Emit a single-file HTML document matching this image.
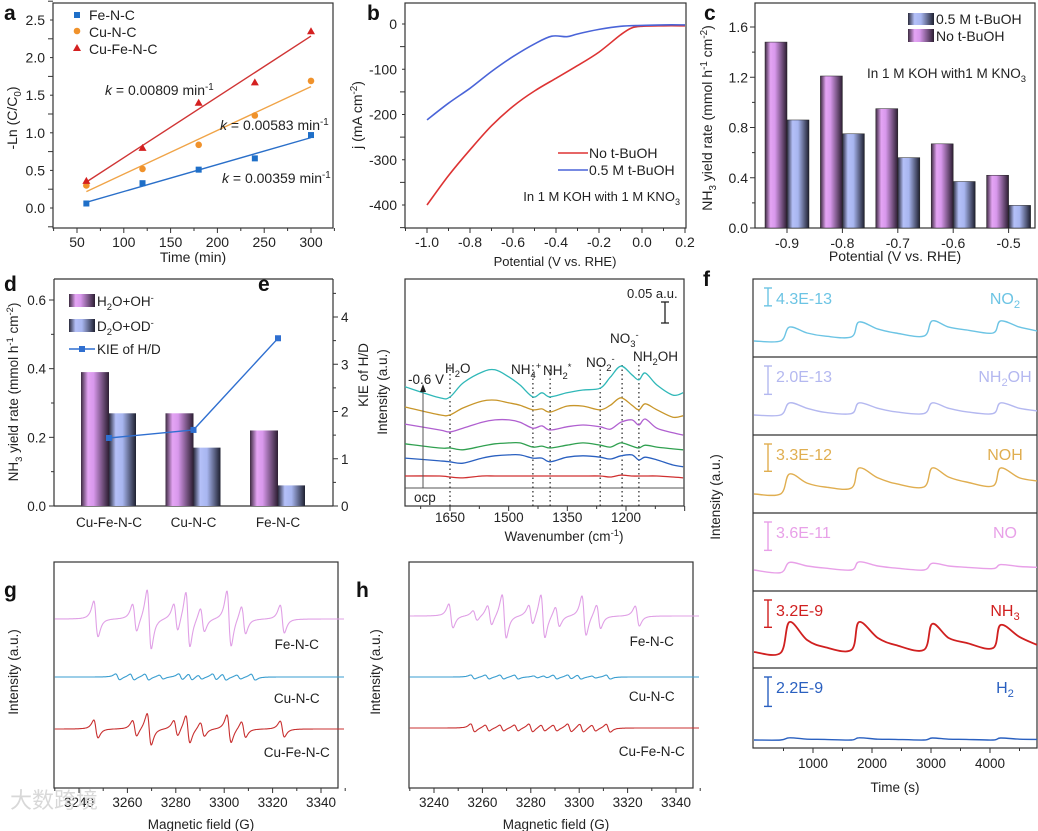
<!DOCTYPE html>
<html><head><meta charset="utf-8">
<style>
html,body{margin:0;padding:0;background:#fff;}
svg{display:block;font-family:"Liberation Sans","Noto Sans CJK SC",sans-serif;}
</style></head>
<body>
<svg id="fig" width="1038" height="831" viewBox="0 0 1038 831" xmlns="http://www.w3.org/2000/svg">
<defs>
<linearGradient id="gPurple" x1="0" x2="1" y1="0" y2="0">
<stop offset="0" stop-color="#3c2a40"/><stop offset="0.25" stop-color="#e4a4f4"/><stop offset="0.45" stop-color="#d898ec"/><stop offset="1" stop-color="#2c1e32"/></linearGradient>
<linearGradient id="gBlue" x1="0" x2="1" y1="0" y2="0">
<stop offset="0" stop-color="#2a2a3c"/><stop offset="0.25" stop-color="#b4c0f8"/><stop offset="0.5" stop-color="#a8b6f0"/><stop offset="1" stop-color="#1e2030"/></linearGradient>
<clipPath id="fclip"><rect x="753" y="279" width="284" height="469"/></clipPath>
</defs>
</svg>
<script>
// ---------- DATA ----------
// panel a
const aTimes=[60,120,180,240,300];
const aFe=[0.06,0.33,0.51,0.66,0.97];
const aCu=[0.30,0.52,0.84,1.23,1.69];
const aCuFe=[0.36,0.80,1.40,1.67,2.35];
// panel b
const bPotRed=[-1.0,-0.9,-0.8,-0.7,-0.6,-0.5,-0.4,-0.3,-0.2,-0.1,-0.05,0.0,0.1,0.2];
const bRed=[-400,-335,-278,-225,-182,-148,-120,-92,-62,-24,-9,-5,-4,-4];
const bPotBlue=[-1.0,-0.9,-0.8,-0.7,-0.6,-0.5,-0.42,-0.35,-0.3,-0.2,-0.1,0.0,0.1,0.2];
const bBlue=[-212,-175,-142,-105,-72,-44,-27,-28,-22,-12,-5,-3,-2,-2];
// panel c
const cCats=['-0.9','-0.8','-0.7','-0.6','-0.5'];
const cNo=[1.48,1.21,0.95,0.67,0.42];
const cTBuOH=[0.86,0.75,0.56,0.37,0.18];
// panel d
const dCats=['Cu-Fe-N-C','Cu-N-C','Fe-N-C'];
const dH2O=[0.39,0.27,0.22];
const dD2O=[0.27,0.17,0.06];
const dKIE=[1.44,1.61,3.55];
// panel e
const eWn=[1765,1676,1650,1617,1568,1535,1499,1471,1438,1415,1394,1351,1310,1266,1240,1213,1185,1167,1151,1121,1080,1054];
const eTeal=[.220,.196,.198,.228,.252,.257,.241,.224,.198,.207,.198,.207,.213,.217,.241,.265,.246,.235,.250,.224,.202,.207];
const eOrange=[.176,.159,.159,.174,.189,.191,.185,.180,.170,.172,.165,.178,.178,.170,.180,.196,.180,.170,.183,.170,.154,.157];
const ePurple=[.139,.126,.122,.130,.143,.148,.148,.143,.130,.135,.126,.133,.137,.133,.128,.143,.148,.137,.150,.130,.120,.115];
const eGreen=[.096,.087,.087,.083,.091,.096,.098,.098,.089,.091,.087,.093,.098,.093,.089,.098,.091,.087,.093,.089,.085,.083];
const eBlue=[.065,.059,.057,.054,.065,.070,.072,.072,.065,.065,.057,.067,.070,.067,.063,.070,.072,.061,.067,.061,.050,.046];
const eRed=[.026,.026,.024,.022,.026,.026,.026,.026,.026,.026,.026,.026,.026,.026,.024,.028,.026,.026,.026,.026,.024,.022];
const eMarks=[1650,1438,1394,1266,1210,1167];
// panel f
const fTimes=[0,450,600,900,1200,1650,1780,2100,2400,2880,3020,3300,3600,4050,4180,4500,4800];
const fNO2=[0,0,0.82,0.47,0.29,0.24,1.12,0.7,0.47,0.29,1.18,0.82,0.65,0.47,1.18,0.82,0.59];
const fNH2OH=[0,0,0.45,0.25,0.1,0.05,0.45,0.25,0.12,0.05,0.45,0.25,0.12,0.05,0.45,0.25,0.15];
const fNOH=[0,0,0.77,0.42,0.27,0.23,1.0,0.62,0.4,0.27,1.0,0.65,0.46,0.31,1.0,0.62,0.5];
const fNO=[0,-0.1,0.28,0.15,0.07,0.0,0.3,0.15,0.07,0.0,0.25,0.15,0.1,0.05,0.2,0.13,0.1];
const fNH3=[0,-0.04,1.15,0.46,0.19,0.08,1.15,0.54,0.27,0.08,1.08,0.54,0.35,0.15,1.04,0.58,0.27];
const fH2=[0,0,0.08,0.03,0.02,0.0,0.08,0.03,0.02,0,0.07,0.03,0.02,0,0.07,0.03,0.02];
const fScaleLabels=['4.3E-13','2.0E-13','3.3E-12','3.6E-11','3.2E-9','2.2E-9'];
const fSpecies=['NO_{2}','NH_{2}OH','NOH','NO','NH_{3}','H_{2}'];
// panels g/h (EPR hyperfine lines)
const epLines=[3247,3263,3269,3280,3285,3291,3302,3308,3324];
const gFeAmp=[18,14,30,14,28,12,28,14,14];
const gCuFeAmp=[9,8,16,8,14,7,14,8,8];
const hFeAmp=[12,10,22,10,22,10,20,12,10];
const cuLines=[3256,3262,3268,3274,3282,3286,3290,3296,3300,3306,3312];
const gCuAmp=[3,3,3,2,3,3,2,3,3,2,3];
const hCuAmp=[2,2,2,2,1,1,2,2,2,1,2];
const hCuFeLines=[3256,3262,3268,3274,3280,3285,3290,3296,3301,3306,3312];
const hCuFeAmp=[4,3,3,3,4,3,3,4,4,3,4];

// ---------- HELPERS ----------
const NS='http://www.w3.org/2000/svg';
const S=document.getElementById('fig');
function mk(tag,attrs,name){
  const el=document.createElementNS(NS,tag);
  for(const k in attrs) el.setAttribute(k,attrs[k]);
  
  
  S.appendChild(el);return el;
}
function sc(d0,d1,r0,r1){return v=>r0+(v-d0)*(r1-r0)/(d1-d0);}
function txt(x,y,s,name,o){
  o=o||{};
  const el=mk('text',{x:x,y:y,'font-size':o.fs||14,fill:o.fill||'#222','text-anchor':o.anchor||'start','font-weight':o.fw||'normal','font-style':o.fi||'normal'},name);
  if(o.rot!==undefined) el.setAttribute('transform','rotate('+o.rot+' '+x+' '+y+')');
  const parts=s.split(/(_\{[^}]*\}|\^\{[^}]*\}|\*\{[^}]*\})/);
  let shift=0;
  parts.forEach(p=>{
    if(!p)return;
    const t=document.createElementNS(NS,'tspan');
    let dy=0;
    if(p[0]==='_'&&p[1]==='{'){t.textContent=p.slice(2,-1);t.setAttribute('font-size',(o.fs||14)*0.7);dy=4-shift;shift=4;}
    else if(p[0]==='^'&&p[1]==='{'){t.textContent=p.slice(2,-1);t.setAttribute('font-size',(o.fs||14)*0.7);dy=-5-shift;shift=-5;}
    else if(p[0]==='*'&&p[1]==='{'){t.textContent=p.slice(2,-1);t.setAttribute('font-style','italic');dy=-shift;shift=0;}
    else {t.textContent=p;dy=-shift;shift=0;}
    if(dy) t.setAttribute('dy',dy);
    el.appendChild(t);
  });
  return el;
}
function line(x1,y1,x2,y2,name,o){o=o||{};return mk('line',{x1:x1,y1:y1,x2:x2,y2:y2,stroke:o.stroke||'#333','stroke-width':o.sw||1,'stroke-dasharray':o.dash||'none'},name);}
function box(x0,y0,x1,y1,name){return mk('rect',{x:x0,y:y0,width:x1-x0,height:y1-y0,fill:'none',stroke:'#333','stroke-width':1.2},name);}
function smooth(pts){
  let d='M'+pts[0][0].toFixed(1)+','+pts[0][1].toFixed(1);
  for(let i=0;i<pts.length-1;i++){
    const p0=pts[i-1]||pts[i],p1=pts[i],p2=pts[i+1],p3=pts[i+2]||p2;
    const c1=[p1[0]+(p2[0]-p0[0])/6,p1[1]+(p2[1]-p0[1])/6];
    const c2=[p2[0]-(p3[0]-p1[0])/6,p2[1]-(p3[1]-p1[1])/6];
    d+=' C'+c1[0].toFixed(1)+','+c1[1].toFixed(1)+' '+c2[0].toFixed(1)+','+c2[1].toFixed(1)+' '+p2[0].toFixed(1)+','+p2[1].toFixed(1);
  }
  return d;
}
function poly(pts){return 'M'+pts.map(p=>p[0].toFixed(1)+','+p[1].toFixed(1)).join(' L');}
function path(d,stroke,name,sw){return mk('path',{d:d,fill:'none',stroke:stroke,'stroke-width':sw||1.4,'stroke-linejoin':'round'},name);}
function yTicks(ys,from,to,step,minor,x,name,side){
  const dir=side==='right'?1:-1;
  for(let v=from;v<=to+1e-9;v+=minor){
    const maj=Math.abs(((v-from)/step)-Math.round((v-from)/step))<1e-6;
    line(x,ys(v),x+dir*(maj?5:3),ys(v),name+'-tick');
  }
}
function panelLetter(x,y,s){txt(x,y,s,'panel-label-'+s,{fs:21,fw:'bold',fill:'#111'});}

// ---------- PANEL A ----------
(function(){
  const xa=sc(50,300,77,311), ya=sc(0,2.5,208,20);
  box(53,3,333,228,'panel-a-plot-area');
  for(let v=25;v<=325;v+=25){const maj=v%50===0;line(xa(v),228,xa(v),228+(maj?5:3),'a-x-tick');}
  [50,100,150,200,250,300].forEach(v=>txt(xa(v),247,String(v),'a-x-label',{anchor:'middle'}));
  yTicks(ya,-0.25,2.75,0.5,0.25,53,'a-y');
  [0,0.5,1,1.5,2,2.5].forEach(v=>txt(45,ya(v)+5,v.toFixed(1),'a-y-label',{anchor:'end'}));
  txt(193,262,'Time (min)','a-x-title',{anchor:'middle'});
  txt(17,118,'-Ln (C/C_{0})','a-y-title',{anchor:'middle',rot:-90});
  const series=[[aFe,'#2a6fc9','#1f6fc8','square','fe-n-c'],[aCu,'#f0a448','#f0922b','circle','cu-n-c'],[aCuFe,'#d03535','#d42020','tri','cu-fe-n-c']];
  series.forEach(s=>{
    const ys=s[0];const n=ys.length;
    const mx=aTimes.reduce((a,b)=>a+b,0)/n,my=ys.reduce((a,b)=>a+b,0)/n;
    let num=0,den=0;aTimes.forEach((t,i)=>{num+=(t-mx)*(ys[i]-my);den+=(t-mx)*(t-mx);});
    const k=num/den,b=my-k*mx;
    line(xa(aTimes[0]),ya(b+k*aTimes[0]),xa(aTimes[n-1]),ya(b+k*aTimes[n-1]),'a-fit-'+s[4],{stroke:s[1],sw:1.4});
    aTimes.forEach((t,i)=>{
      const x=xa(t),y=ya(ys[i]);
      if(s[3]==='square') mk('rect',{x:x-3,y:y-3,width:6,height:6,fill:s[2]},'a-point-'+s[4]);
      else if(s[3]==='circle') mk('circle',{cx:x,cy:y,r:3.3,fill:s[2]},'a-point-'+s[4]);
      else mk('path',{d:'M'+x+','+(y-4)+' L'+(x+4)+','+(y+3)+' L'+(x-4)+','+(y+3)+'Z',fill:s[2]},'a-point-'+s[4]);
    });
  });
  mk('rect',{x:74,y:12,width:6,height:6,fill:'#1f6fc8'},'a-legend-marker-fe');
  txt(89,20,'Fe-N-C','a-legend-fe');
  mk('circle',{cx:77,cy:31,r:3.3,fill:'#f0922b'},'a-legend-marker-cu');
  txt(89,37,'Cu-N-C','a-legend-cu');
  mk('path',{d:'M77,44 L81,51 L73,51Z',fill:'#d42020'},'a-legend-marker-cufe');
  txt(89,54,'Cu-Fe-N-C','a-legend-cufe');
  txt(105,95,'*{k} = 0.00809 min^{-1}','a-k-cufe',{fs:14});
  txt(220,130,'*{k} = 0.00583 min^{-1}','a-k-cu',{fs:14});
  txt(222,183,'*{k} = 0.00359 min^{-1}','a-k-fe',{fs:14});
  panelLetter(4,20,'a');
})();

// ---------- PANEL B ----------
(function(){
  const xb=sc(-1,0.2,427,685), yb=sc(0,-400,24,205);
  box(405,3,686,228,'panel-b-plot-area');
  for(let v=-1.1;v<=0.21;v+=0.1){const maj=Math.abs(Math.round(v*10))%2===0;line(xb(v),228,xb(v),228+(maj?5:3),'b-x-tick');}
  [-1,-0.8,-0.6,-0.4,-0.2,0,0.2].forEach(v=>txt(xb(v),247,v.toFixed(1),'b-x-label',{anchor:'middle'}));
  yTicks(yb,-450,0,100,50,405,'b-y');
  [0,-100,-200,-300,-400].forEach(v=>txt(397,yb(v)+5,String(v),'b-y-label',{anchor:'end'}));
  txt(555,266,'Potential (V vs. RHE)','b-x-title',{anchor:'middle',fs:13});
  txt(362,115,'j (mA cm^{-2})','b-y-title',{anchor:'middle',rot:-90});
  path(smooth(bPotRed.map((v,i)=>[xb(v),yb(bRed[i])])),'#dd3333','b-curve-no-tbuoh',1.6);
  path(smooth(bPotBlue.map((v,i)=>[xb(v),yb(bBlue[i])])),'#4a64d8','b-curve-tbuoh',1.6);
  line(558,153,588,153,'b-legend-line-red',{stroke:'#dd3333',sw:1.6});
  txt(589,158,'No t-BuOH','b-legend-red');
  line(558,170,588,170,'b-legend-line-blue',{stroke:'#4a64d8',sw:1.6});
  txt(589,175,'0.5 M t-BuOH','b-legend-blue');
  txt(680,201,'In 1 M KOH with 1 M KNO_{3}','b-condition',{anchor:'end',fs:13});
  panelLetter(367,20,'b');
})();

// ---------- PANEL C ----------
(function(){
  const xc=i=>787+i*55.4, yc=sc(0,1.6,228,27);
  box(755,3,1035,228,'panel-c-plot-area');
  cCats.forEach((c,i)=>{
    mk('rect',{x:xc(i)-22,y:yc(cNo[i]),width:22,height:yc(0)-yc(cNo[i]),fill:'url(#gPurple)',stroke:'#222','stroke-width':0.5},'c-bar-no-tbuoh');
    mk('rect',{x:xc(i),y:yc(cTBuOH[i]),width:22,height:yc(0)-yc(cTBuOH[i]),fill:'url(#gBlue)',stroke:'#222','stroke-width':0.5},'c-bar-tbuoh');
    line(xc(i),228,xc(i),233,'c-x-tick');
    txt(xc(i),248,c,'c-x-label',{anchor:'middle'});
  });
  yTicks(yc,0,1.6,0.4,0.2,755,'c-y');
  [0,0.4,0.8,1.2,1.6].forEach(v=>txt(748,yc(v)+5,v.toFixed(1),'c-y-label',{anchor:'end'}));
  txt(895,261,'Potential (V vs. RHE)','c-x-title',{anchor:'middle'});
  txt(712,118,'NH_{3} yield rate (mmol h^{-1} cm^{-2})','c-y-title',{anchor:'middle',rot:-90});
  mk('rect',{x:908,y:13,width:26,height:12,fill:'url(#gBlue)'},'c-legend-box-tbuoh');
  txt(936,24,'0.5 M t-BuOH','c-legend-tbuoh');
  mk('rect',{x:908,y:29,width:26,height:13,fill:'url(#gPurple)'},'c-legend-box-no');
  txt(936,41,'No t-BuOH','c-legend-no');
  txt(1026,78,'In 1 M KOH with1 M KNO_{3}','c-condition',{anchor:'end',fs:13.5});
  panelLetter(704,20,'c');
})();

// ---------- PANEL D ----------
(function(){
  const xd=i=>109+i*84.5, yd=sc(0,0.6,506,300), yk=sc(0,4,506,317);
  mk('line',{x1:54,y1:279,x2:54,y2:506,stroke:'#333','stroke-width':1.2},'d-left-axis');
  mk('line',{x1:333,y1:279,x2:333,y2:506,stroke:'#333','stroke-width':1.2},'d-right-axis');
  mk('line',{x1:54,y1:506,x2:333,y2:506,stroke:'#333','stroke-width':1.2},'d-bottom-axis');
  mk('line',{x1:54,y1:279,x2:333,y2:279,stroke:'#333','stroke-width':1.2},'d-top-axis');
  dCats.forEach((c,i)=>{
    mk('rect',{x:xd(i)-28,y:yd(dH2O[i]),width:28,height:yd(0)-yd(dH2O[i]),fill:'url(#gPurple)'},'d-bar-h2o');
    mk('rect',{x:xd(i),y:yd(dD2O[i]),width:27,height:yd(0)-yd(dD2O[i]),fill:'url(#gBlue)'},'d-bar-d2o');
    txt(xd(i),527,c,'d-x-label',{anchor:'middle',fs:13.5});
  });
  yTicks(yd,0,0.6,0.2,0.1,54,'d-y');
  [0,0.2,0.4,0.6].forEach(v=>txt(46,yd(v)+5,v.toFixed(1),'d-y-label',{anchor:'end',fs:13.5}));
  yTicks(yk,0,4.5,1,0.5,333,'d-y2','right');
  [0,1,2,3,4].forEach(v=>txt(341,yk(v)+5,String(v),'d-y2-label',{fs:13.5}));
  path(poly(dKIE.map((v,i)=>[xd(i),yk(v)])),'#2f6fd0','d-kie-line',1.4);
  dKIE.forEach((v,i)=>mk('rect',{x:xd(i)-3,y:yk(v)-3,width:6,height:6,fill:'#2f6fd0'},'d-kie-point'));
  mk('rect',{x:69,y:294,width:26,height:13,fill:'url(#gPurple)'},'d-legend-box-h2o');
  txt(97,306,'H_{2}O+OH^{-}','d-legend-h2o',{fs:13.5});
  mk('rect',{x:69,y:319,width:26,height:13,fill:'url(#gBlue)'},'d-legend-box-d2o');
  txt(97,331,'D_{2}O+OD^{-}','d-legend-d2o',{fs:13.5});
  line(69,349,95,349,'d-legend-line-kie',{stroke:'#2f6fd0',sw:1.4});
  mk('rect',{x:79,y:346,width:6,height:6,fill:'#2f6fd0'},'d-legend-marker-kie');
  txt(97,354,'KIE of H/D','d-legend-kie',{fs:13.5});
  txt(18,392,'NH_{3} yield rate (mmol h^{-1} cm^{-2})','d-y-title',{anchor:'middle',rot:-90,fs:13.5});
  txt(368,375,'KIE of H/D','d-y2-title',{anchor:'middle',rot:-90,fs:13.5});
  panelLetter(4,291,'d');
})();

// ---------- PANEL E ----------
(function(){
  const xe=sc(1650,1200,450,626), ye=sc(0,0.05,488,465);
  box(405,279,684,506,'panel-e-plot-area');
  for(let v=1725;v>=1050;v-=75){const maj=(v%150===0);line(xe(v),506,xe(v),506+(maj?5:3),'e-x-tick');}
  [1650,1500,1350,1200].forEach(v=>txt(xe(v),522,String(v),'e-x-label',{anchor:'middle',fs:13.5}));
  txt(564,541,'Wavenumber (cm^{-1})','e-x-title',{anchor:'middle',fs:13.5});
  txt(387,392,'Intensity (a.u.)','e-y-title',{anchor:'middle',rot:-90,fs:13.5});
  line(405,488,684,488,'e-ocp-line',{stroke:'#555',sw:1});
  eMarks.forEach(w=>line(xe(w),365,xe(w),506,'e-band-marker',{stroke:'#222',sw:1.2,dash:'1.5,3'}));
  const traces=[[eTeal,'#30b8b8','teal'],[eOrange,'#c8962a','orange'],[ePurple,'#b060d0','purple'],[eGreen,'#30a050','green'],[eBlue,'#2a60c0','blue'],[eRed,'#d03030','red']];
  traces.forEach(t=>path(smooth(eWn.map((w,i)=>[xe(w),ye(t[0][i])])),t[1],'e-spectrum-'+t[2],1.3));
  line(423,488,423,388,'e-potential-arrow',{stroke:'#555',sw:1});
  mk('path',{d:'M420,392 L423,384 L426,392Z',fill:'#222'},'e-arrow-head');
  txt(408,384,'-0.6 V','e-label-potential',{fs:13.5});
  txt(445,373,'H_{2}O','e-label-h2o',{fs:13.5});
  txt(511,374,'NH_{4}^{+}','e-label-nh4',{fs:13.5});
  txt(543,375,'NH_{2}^{*}','e-label-nh2',{fs:13.5});
  txt(586,367,'NO_{2}^{-}','e-label-no2',{fs:13.5});
  txt(610,343,'NO_{3}^{-}','e-label-no3',{fs:13.5});
  txt(633,361,'NH_{2}OH','e-label-nh2oh',{fs:13.5});
  txt(414,502,'ocp','e-label-ocp',{fs:13.5});
  txt(627,298,'0.05 a.u.','e-scale-label',{fs:13});
  line(665,302,665,323,'e-scale-bar',{stroke:'#222',sw:1.3});
  line(661,302,669,302,'e-scale-cap',{stroke:'#222',sw:1.3});
  line(661,323,669,323,'e-scale-cap',{stroke:'#222',sw:1.3});
  panelLetter(258,291,'e');
})();

// ---------- PANEL F ----------
(function(){
  const xf=sc(0,4000,754,990);
  const tops=[279,357,435,513,591,668,748];
  const bases=[341,415,494,570,652,740];
  const pxu=[17,27,26,27,26,28];
  const cols=['#6cc4e4','#b4b8f0','#e0ae50','#e8a0e8','#d02020','#2a60c0'];
  const data=[fNO2,fNH2OH,fNOH,fNO,fNH3,fH2];
  box(753,279,1037,748,'panel-f-plot-area');
  for(let i=1;i<6;i++) line(753,tops[i],1037,tops[i],'f-subpanel-divider',{sw:1.2});
  data.forEach((d,k)=>{
    const yf=sc(0,1,bases[k],bases[k]-pxu[k]);
    const p=path(smooth(fTimes.map((t,i)=>[xf(t),yf(d[i])])),cols[k],'f-trace-'+k,k===4?1.8:1.4);
    p.setAttribute('clip-path','url(#fclip)');
    const bt=tops[k]+9,bl=pxu[k]*1.05;
    line(768,bt,768,bt+bl,'f-scale-bar',{stroke:cols[k],sw:1.4});
    line(764,bt,772,bt,'f-scale-cap',{stroke:cols[k],sw:1.4});
    line(764,bt+bl,772,bt+bl,'f-scale-cap',{stroke:cols[k],sw:1.4});
    txt(776,tops[k]+25,fScaleLabels[k],'f-scale-label',{fill:cols[k],fs:16});
    txt(1005,tops[k]+25,fSpecies[k],'f-species-label',{fill:cols[k],fs:16,anchor:'middle'});
  });
  for(let v=500;v<=4500;v+=500){const maj=v%1000===0;line(xf(v),748,xf(v),748+(maj?5:3),'f-x-tick');if(maj)txt(xf(v),768,String(v),'f-x-label',{anchor:'middle',fs:13.5});}
  txt(895,792,'Time (s)','f-x-title',{anchor:'middle',fs:13.5});
  txt(720,497,'Intensity (a.u.)','f-y-title',{anchor:'middle',rot:-90,fs:13.5});
  panelLetter(703,286,'f');
})();

// ---------- PANELS G / H ----------
function epr(lines,amps,base,xs,col,name){
  const pts=[];
  for(let B=3230;B<=3349.5;B+=0.25){
    let v=0;
    lines.forEach((c,i)=>{const u=(B-c)/1.5;v+=-amps[i]*u/Math.pow(1+u*u,2)/0.325;});
    pts.push([xs(B),base-v]);
  }
  path(poly(pts),col,name,1.1);
}
(function(){
  const panels=[['g',54,338,sc(3240,3340,79,321),12,
      [[epLines,gFeAmp,619,'#e0a0e6','Fe-N-C',649],[cuLines,gCuAmp,677,'#3a9ed0','Cu-N-C',703],[epLines,gCuFeAmp,729,'#c83030','Cu-Fe-N-C',757]]],
    ['h',409,693,sc(3240,3340,434,676),374,
      [[epLines.concat([3257]),hFeAmp.concat([5]),616,'#e0a0e6','Fe-N-C',646],[cuLines,hCuAmp,677,'#3a9ed0','Cu-N-C',701],[hCuFeLines,hCuFeAmp,728,'#c83030','Cu-Fe-N-C',756]]]];
  panels.forEach(p=>{
    const [id,l,r,xs,yt,tr]=p;
    box(l,562,r,788,'panel-'+id+'-plot-area');
    for(let v=3230;v<=3350;v+=10){const maj=v%20===0;line(xs(v),788,xs(v),788+(maj?5:3),id+'-x-tick');if(maj&&v>=3240&&v<=3340)txt(xs(v),807,String(v),id+'-x-label',{anchor:'middle',fs:13.5});}
    txt((l+r)/2+5,829,'Magnetic field (G)',id+'-x-title',{anchor:'middle',fs:13.5});
    txt(yt+6,672,'Intensity (a.u.)',id+'-y-title',{anchor:'middle',rot:-90,fs:13.5});
    tr.forEach(t=>{
      epr(t[0],t[1],t[2],xs,t[3],id+'-spectrum-'+t[4].toLowerCase());
      txt(xs(3330),t[5],t[4],id+'-sample-label',{anchor:'middle',fs:13.5});
    });
  });
  panelLetter(4,597,'g');
  panelLetter(356,597,'h');
  txt(10,808,'大数跨境','watermark',{fs:22,fill:'#d8d8d8'});
})();
</script>
</body></html>
